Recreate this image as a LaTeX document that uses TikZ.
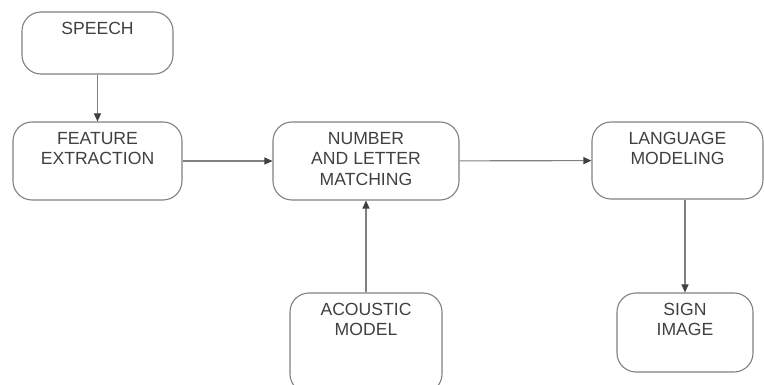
\documentclass[tikz,border=0pt]{standalone}
\usepackage{fontspec}
\setmainfont{Liberation Sans}
\usetikzlibrary{arrows.meta, positioning}
\definecolor{linegray}{HTML}{808080}
\definecolor{textgray}{HTML}{404040}
\definecolor{tipgray}{HTML}{404040}
\tikzstyle{stage} = [rectangle, rounded corners=19pt, draw=linegray, line width=1.1pt, minimum height=78pt]
\tikzstyle{caption} = [anchor=north, inner sep=0pt, align=center, text=textgray, font=\fontsize{17.6}{20.5}\selectfont, yshift=-10.5pt]
\tikzstyle{flow} = [draw=linegray, line width=1.1pt, -{Triangle[length=8pt, width=7pt, color=tipgray]}]

\begin{document}
\begin{tikzpicture}[node distance=118pt]
\useasboundingbox (0,0) rectangle (764pt,-385pt);
\node (speech) [stage, minimum width=151pt, minimum height=62pt, label={[caption, name=speechtext]north:SPEECH}] at (97.5pt,-43pt) {};
\node (feature) [stage, minimum width=169pt, below of=speech, label={[caption, name=featuretext]north:FEATURE\\EXTRACTION}] {};
\node (matching) [stage, minimum width=186pt, right of=feature, xshift=150.5pt, label={[caption, name=matchingtext]north:NUMBER\\AND LETTER\\MATCHING}] {};
\node (language) [stage, minimum width=171pt, minimum height=77pt, right of=matching, xshift=193.5pt, yshift=0.5pt, label={[caption, name=languagetext]north:LANGUAGE\\MODELING}] {};
\node (acoustic) [stage, minimum width=152pt, minimum height=100pt, below of=matching, yshift=-64pt, label={[caption, name=acoustictext]north:ACOUSTIC\\MODEL}] {};
\node (sign) [stage, minimum width=136pt, minimum height=79pt, below of=language, xshift=7.5pt, yshift=-54pt, label={[caption, name=signtext]north:SIGN\\IMAGE}] {};

\draw[flow] (speech) -- (feature);
\draw[flow] (feature) -- (matching);
\draw[flow] (matching) -- (language);
\draw[flow] (acoustic) -- (matching);
\draw[flow] (sign.north |- language.south) -- (sign);
\end{tikzpicture}
\end{document}
